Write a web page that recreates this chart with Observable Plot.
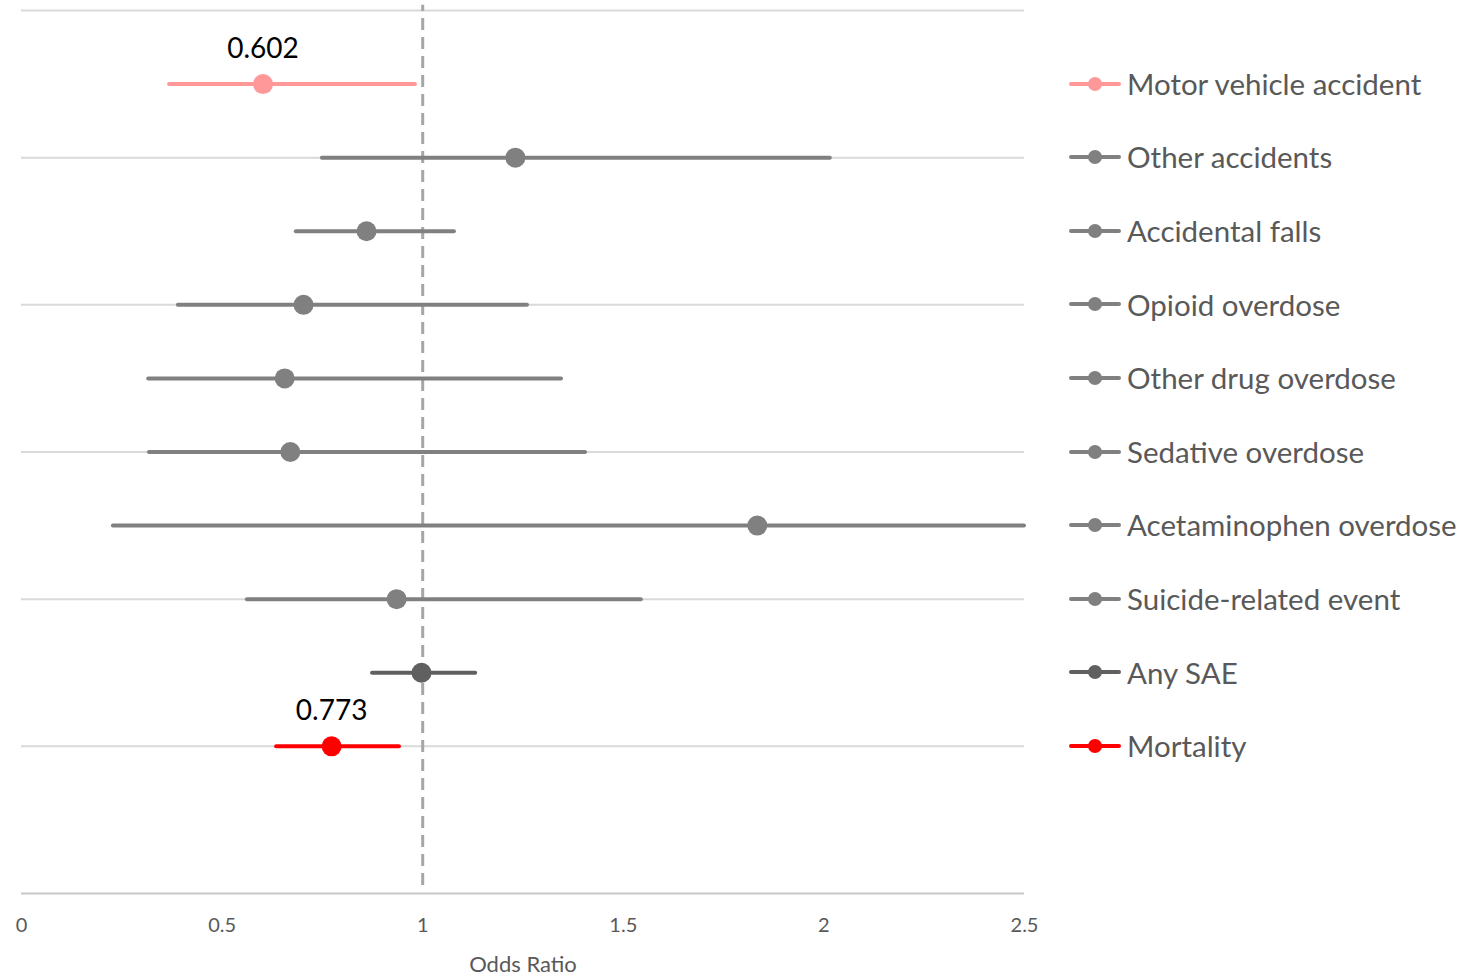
<!DOCTYPE html>
<html><head><meta charset="utf-8">
<script src="https://cdn.jsdelivr.net/npm/d3@7"></script>
<script src="https://cdn.jsdelivr.net/npm/@observablehq/plot@0.6"></script>
<style>
body{margin:0;background:#fff;font-family:Lato,"Open Sans",sans-serif;}
#wrap{position:relative;width:1480px;height:976px;overflow:hidden;}
.leg{position:absolute;left:1069px;display:flex;align-items:center;font-size:29.5px;color:#595959;white-space:nowrap;line-height:1;}
.leg svg{margin-right:6px;}
</style></head><body><div id="wrap"></div>
<script>
const outcomes = ["Motor vehicle accident","Other accidents","Accidental falls","Opioid overdose","Other drug overdose","Sedative overdose","Acetaminophen overdose","Suicide-related event","Any SAE","Mortality"];
const oddsRatio = [0.602,1.231,0.860,0.703,0.656,0.670,1.834,0.935,0.997,0.773];
const ciLow = [0.369,0.750,0.685,0.391,0.317,0.319,0.229,0.563,0.875,0.636];
const ciHigh = [0.982,2.016,1.079,1.261,1.346,1.406,2.5,1.545,1.132,0.942];
const seriesColors = ["#FF9999","#808080","#808080","#808080","#808080","#808080","#808080","#808080","#606060","#FF0000"];
const rowPos = [11,10,9,8,7,6,5,4,3,2];
const dataLabels = ["0.602","","","","","","","","","0.773"];
const xTicks = [0,0.5,1,1.5,2,2.5];
const gridRows = [2,4,6,8,10,12];
const refLine = [1];

const data = outcomes.map((name,i)=>({name, or:oddsRatio[i], lo:ciLow[i], hi:ciHigh[i], color:seriesColors[i], row:rowPos[i], label:dataLabels[i]}));

const plot = Plot.plot({
  width:1480, height:976,
  marginLeft:21, marginRight:456, marginTop:10, marginBottom:83,
  style:{fontFamily:"Lato, 'Open Sans', sans-serif", background:"#fff"},
  x:{domain:[0,2.5]},
  y:{domain:[0,12], axis:null},
  color:{type:"identity"},
  marks:[
    Plot.ruleY(gridRows,{stroke:"#D9D9D9", strokeWidth:2}),
    Plot.ruleY([0],{stroke:"#C8C8C8", strokeWidth:2}),
    Plot.ruleX(refLine,{y1:0.11, y2:12.07, stroke:"#A6A6A6", strokeWidth:3, strokeDasharray:"12,7", clip:false}),
    Plot.ruleY(data,{y:"row", x1:"lo", x2:"hi", stroke:"color", strokeWidth:4, strokeLinecap:"round"}),
    Plot.dot(data,{x:"or", y:"row", r:10, fill:"color", stroke:null}),
    Plot.text(data.filter(d=>d.label),{x:"or", y:"row", text:"label", dy:-35, fontSize:28, fill:"#000"}),
    Plot.axisX({ticks:xTicks, tickSize:0, tickPadding:24, fontSize:20, color:"#595959", tickFormat:d=>String(d), label:"Odds Ratio", labelAnchor:"center", labelOffset:78, labelArrow:"none"})
  ]
});
const wrap = document.getElementById("wrap");
wrap.appendChild(plot);
plot.querySelectorAll('[aria-label="x-axis label"] text').forEach(t=>{t.setAttribute("font-size","22");t.setAttribute("fill","#595959");});
const ys = plot.scale("y");
data.forEach(d=>{
  const div=document.createElement("div");
  div.className="leg";
  const y=ys.apply(d.row);
  div.style.top=(y-15)+"px";
  div.style.height="30px";
  div.innerHTML=`<svg width="52" height="20"><line x1="2" y1="10" x2="50" y2="10" stroke="${d.color}" stroke-width="4" stroke-linecap="round"/><circle cx="26" cy="10" r="7" fill="${d.color}"/></svg><span>${d.name}</span>`;
  wrap.appendChild(div);
});
</script></body></html>
